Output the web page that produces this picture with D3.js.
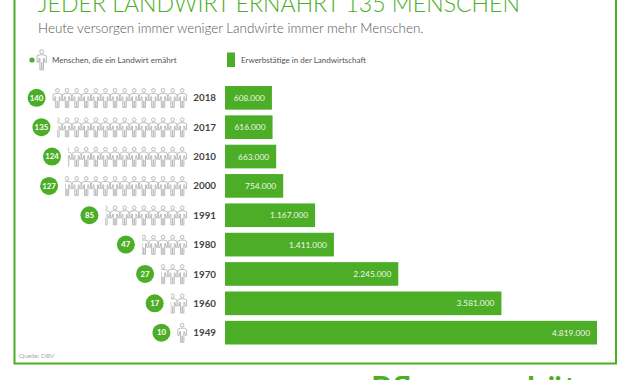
<!DOCTYPE html>
<html>
<head>
<meta charset="utf-8">
<script src="https://cdn.jsdelivr.net/npm/d3@7"></script>
<style>
body{margin:0;background:#fff;overflow:hidden}
svg{display:block}
text{font-family:Lato,"Open Sans",sans-serif}
</style>
</head>
<body>
<div id="chart"></div>
<script>
const years = ["2018","2017","2010","2000","1991","1980","1970","1960","1949"];
const people = [140,135,124,127,85,47,27,17,10];
const workers = [608000,616000,663000,754000,1167000,1411000,2245000,3581000,4819000];
const valueLabels = ["608.000","616.000","663.000","754.000","1.167.000","1.411.000","2.245.000","3.581.000","4.819.000"];

const green = "#4cae26", grey = "#555";
const personW = 9.6, personRight = 187;

const svg = d3.select("#chart").append("svg").attr("width",630).attr("height",380);
const defs = svg.append("defs");

const x = d3.scaleLinear().domain([0,4819000]).range([225,597]);
const y = d3.scaleBand().domain(years).range([86,344.5]).paddingInner(0.194).paddingOuter(0);

// frame
svg.append("rect").attr("x",14.5).attr("y",-5).attr("width",601.5).attr("height",368.5)
  .attr("fill","none").attr("stroke",green).attr("stroke-width",2);

svg.append("text").attr("x",38).attr("y",12).attr("fill",green)
  .attr("font-size",23.1).attr("font-weight",300).text("JEDER LANDWIRT ERNÄHRT 135 MENSCHEN");
svg.append("text").attr("x",38).attr("y",33).attr("fill",grey)
  .attr("font-size",13.4).attr("font-weight",300).text("Heute versorgen immer weniger Landwirte immer mehr Menschen.");

// little person outline, origin top-centre, about 8x19
function person(g,cx,top,s){
  g.append("path")
   .attr("transform",`translate(${cx},${top}) scale(${s||1})`)
   .attr("fill","none").attr("stroke","#bbb").attr("stroke-width",1)
   .attr("d","M-1.8 2a1.8 1.8 0 1 0 3.6 0a1.8 1.8 0 1 0 -3.6 0M-2 5h4l2.4 1.2v6h-1.4l-.7 -4M-2 5l-2.4 1.2v6h1.4l.7 -4M-1.7 8.2v11h1.5v-6.5h.4v6.5h1.5v-11");
}

// legend
svg.append("circle").attr("cx",32).attr("cy",60).attr("r",2.6).attr("fill",green);
person(svg,41.7,49.5,1.05);
svg.append("text").attr("x",52).attr("y",63).attr("fill",grey).attr("font-size",8).text("Menschen, die ein Landwirt ernährt");
svg.append("rect").attr("x",227).attr("y",52.5).attr("width",8).attr("height",14.5).attr("fill",green);
svg.append("text").attr("x",241).attr("y",63).attr("fill",grey).attr("font-size",8).text("Erwerbstätige in der Landwirtschaft");

// rows
years.forEach((yr,i)=>{
  const cy = y(yr)+y.bandwidth()/2;
  const n = people[i]/10;
  const whole = Math.floor(n), frac = n-whole;
  const g = svg.append("g");
  for(let k=0;k<whole;k++) person(g,personRight-personW/2-k*personW,cy-9.5);
  let leftEdge = personRight-whole*personW;
  if(frac>0){
    // partly shown figure, only its right part stays visible
    const id = "clip"+i;
    defs.append("clipPath").attr("id",id).append("rect")
      .attr("x",leftEdge-personW*frac).attr("y",cy-12).attr("width",personW*frac).attr("height",24);
    const p = g.append("g").attr("clip-path",`url(#${id})`);
    person(p,leftEdge-personW/2,cy-9.5);
    leftEdge -= personW*frac;
  }
  const cx = leftEdge-16;
  svg.append("circle").attr("cx",cx).attr("cy",cy).attr("r",9).attr("fill",green);
  svg.append("text").attr("x",cx).attr("y",cy+2.7).attr("text-anchor","middle").attr("fill","#fff")
    .attr("font-size",7.8).attr("font-weight",700).text(people[i]);
  svg.append("text").attr("x",216).attr("y",cy+3.6).attr("text-anchor","end").attr("fill","#444")
    .attr("font-size",9.8).attr("font-weight",700).text(yr);
  svg.append("rect").attr("x",x(0)).attr("y",y(yr)).attr("width",x(workers[i])-x(0)).attr("height",y.bandwidth()).attr("fill",green);
  svg.append("text").attr("x",x(workers[i])-7).attr("y",cy+3).attr("text-anchor","end").attr("fill","#eef6e8")
    .attr("font-size",8.4).text(valueLabels[i]);
});

svg.append("text").attr("x",19).attr("y",358).attr("fill","#aaa").attr("font-size",6.5).text("Quelle: DBV");
// logo, only its top shows at the bottom edge
svg.append("text").attr("x",371).attr("y",400).attr("fill",green).attr("font-size",32.7).attr("font-weight",700).text("Pflanzenschützer");
</script>
</body>
</html>
